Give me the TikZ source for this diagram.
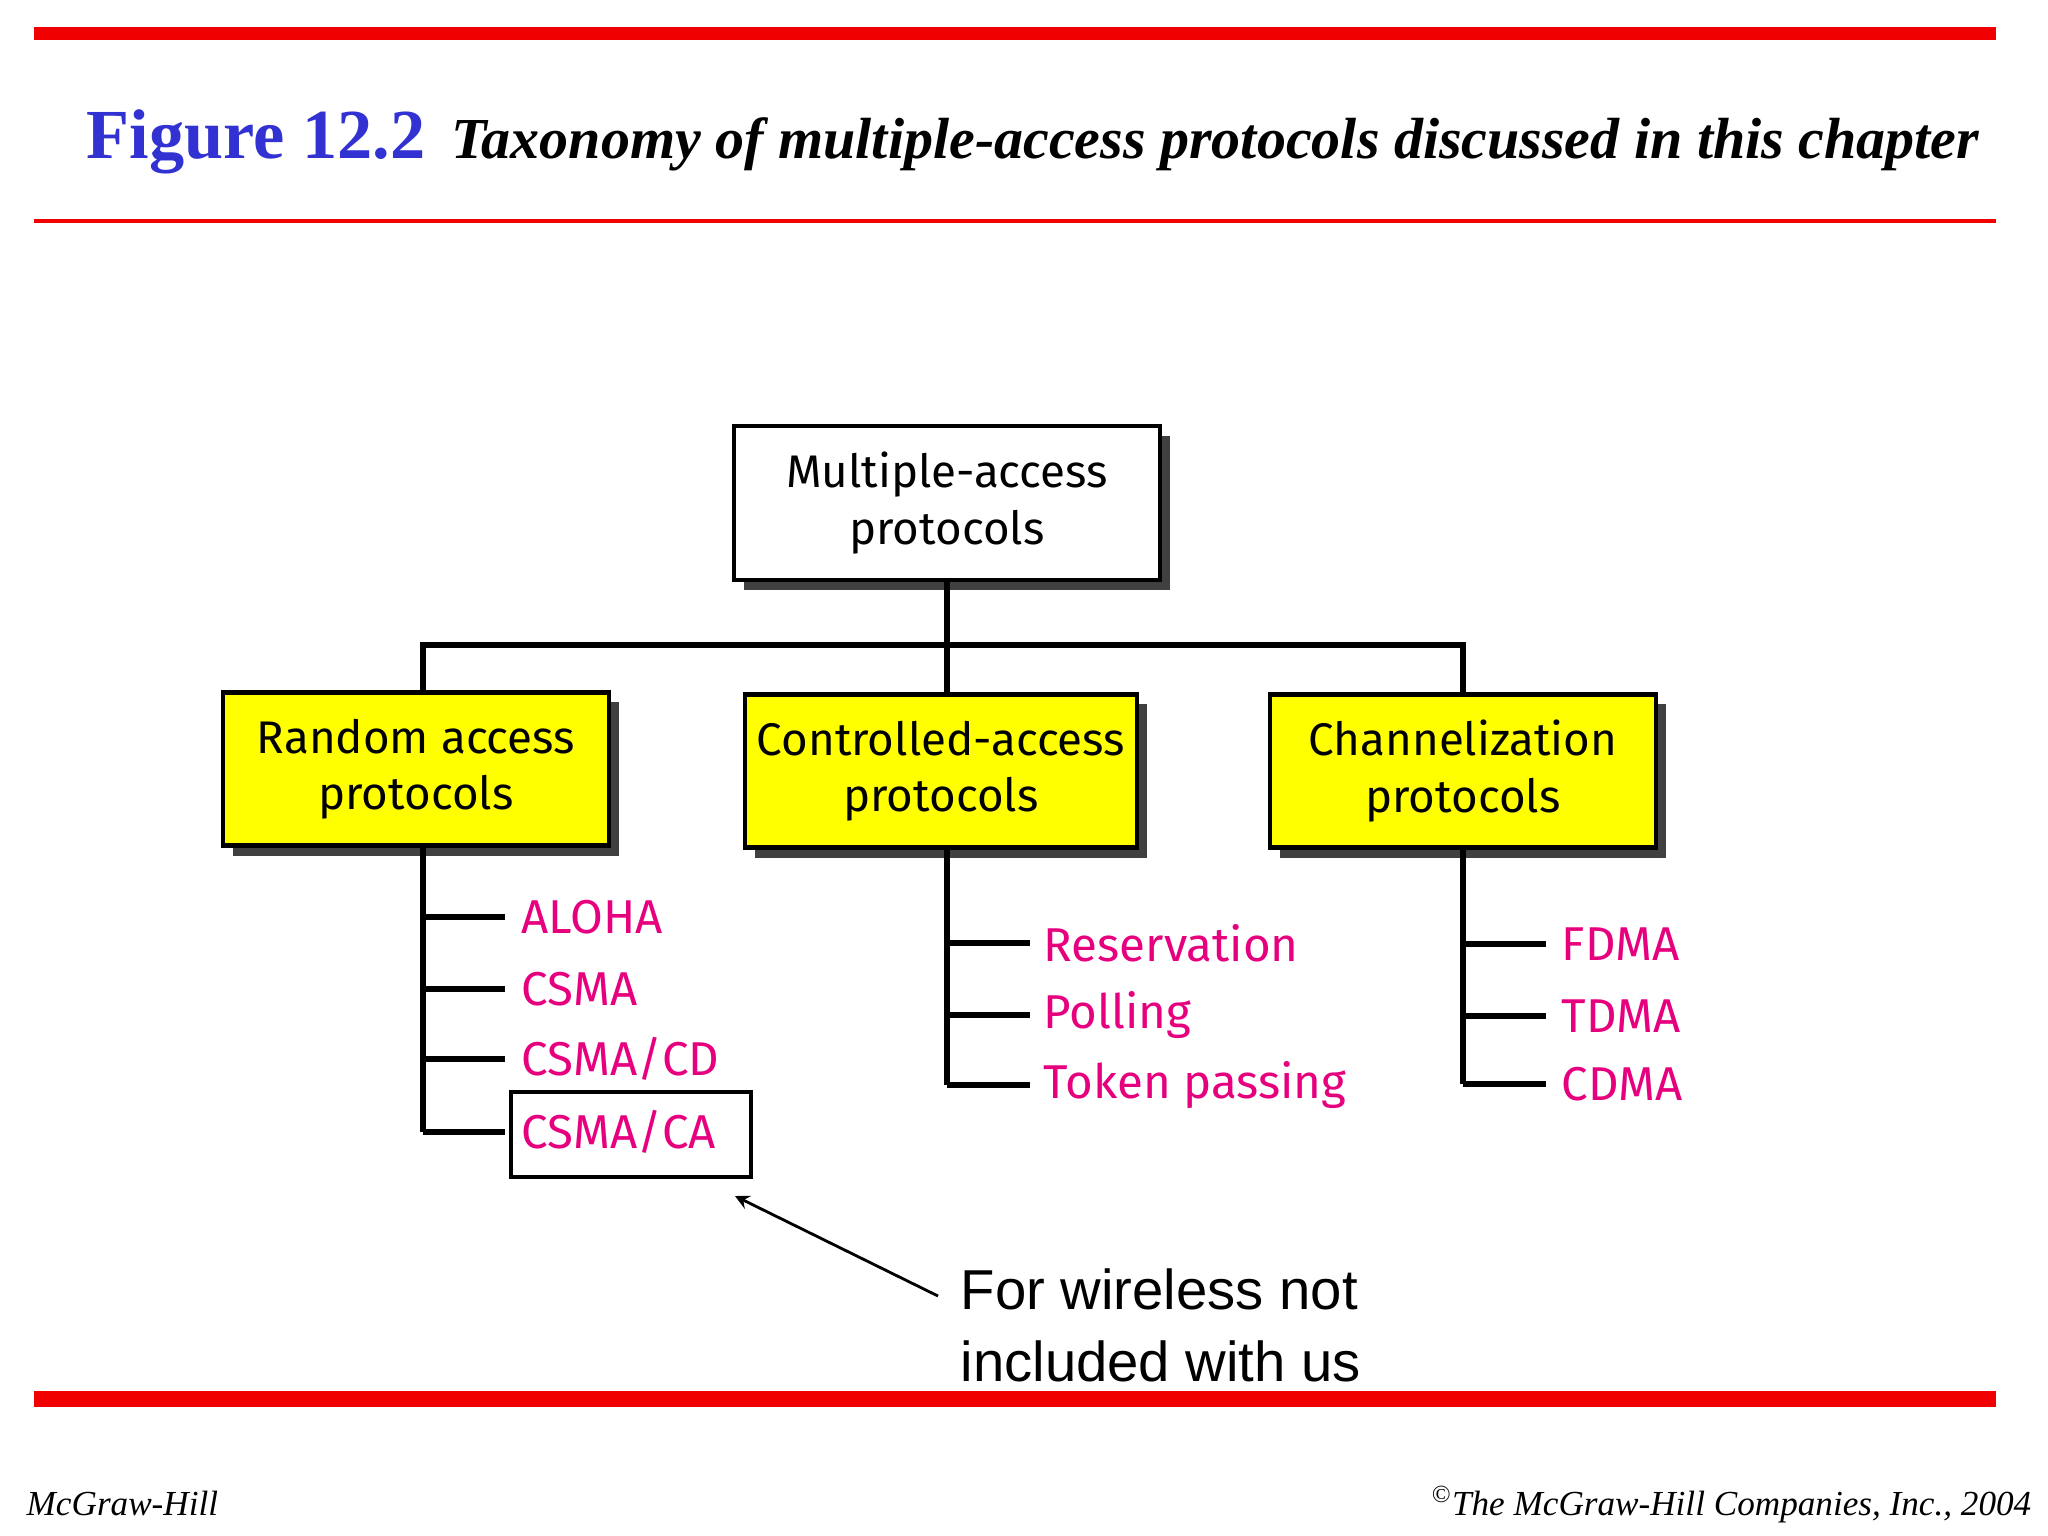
\documentclass[tikz,border=0pt]{standalone}
\usetikzlibrary{shadows}
\usepackage{fontspec}
\setmainfont{Liberation Serif}
\newfontfamily\boxfont{Fira Sans}
\newfontfamily\notefont{Liberation Sans}
\definecolor{barred}{RGB}{240,0,0}
\definecolor{titleblue}{RGB}{50,50,210}
\definecolor{itempink}{RGB}{230,0,126}
\definecolor{boxyellow}{RGB}{255,255,0}
\begin{document}
\begin{tikzpicture}[x=0.01cm,y=-0.01cm,
  proto/.style={draw=black,line width=1.2pt,minimum width=3.86cm,minimum height=1.53cm,
    align=center,font=\boxfont\fontsize{13}{16}\selectfont,
    general shadow={fill=black!75,shadow xshift=0.1cm,shadow yshift=-0.1cm}},
  item/.style={anchor=west,text=itempink,font=\boxfont\fontsize{13.5}{16}\selectfont,inner sep=2pt},
  link/.style={line width=1.6pt},
  tick/.style={line width=1.6pt}]
\useasboundingbox (0,0) rectangle (2048,1536);
% frame bars
\fill[barred] (34,27) rectangle (1996,40);
\draw[barred,line width=1.3pt] (34,221) -- (1996,221);
\fill[barred] (34,1391) rectangle (1996,1407);
% title
\node[anchor=base west,inner sep=0,text=titleblue,font=\fontsize{20}{24}\selectfont\bfseries] (fig) at (86,158) {Figure 12.2};
\node[anchor=base west,inner sep=0,font=\fontsize{16.5}{20}\selectfont\bfseries\itshape] (cap) at (451,158) {Taxonomy of multiple-access protocols discussed in this chapter};
% footer
\node[anchor=base west,inner sep=0,font=\fontsize{10}{12}\selectfont\itshape] (mh) at (26,1515) {McGraw-Hill};
\node[anchor=base east,inner sep=0,font=\fontsize{10}{12}\selectfont\itshape] (cr) at (2032,1515) {\textsuperscript{\copyright}The McGraw-Hill Companies, Inc., 2004};
% boxes
\node[proto,fill=white,minimum width=4.26cm,minimum height=1.54cm] (root) at (947,503) {Multiple-access\\protocols};
\node[proto,fill=boxyellow] (ra) at (416,769) {Random access\\protocols};
\node[proto,fill=boxyellow] (ca) at (941,771) {Controlled-access\\protocols};
\node[proto,fill=boxyellow] (ch) at (1463,771) {Channelization\\protocols};
\coordinate (bus) at (947,645);
\draw[link] (ra.north -| 423,0) |- (bus) -| (ch.north);
\draw[link] (root.south) -- (bus |- ca.north);
% random access
\draw[link] (ra.south -| 423,0) -- (423,1132);
\foreach \y/\t/\n in {917/ALOHA/a1,989/CSMA/a2,1059/CSMA\slash CD/a3,1132/CSMA\slash CA/a4}{
  \node[item] (\n) at (514,\y) {\t};
  \draw[tick] (423,\y) -- (505,\y);}
\draw[line width=0.9pt] (511,1092) rectangle (751,1177);
% controlled
\draw[link] (ca.south -| 947,0) -- (947,1085);
\foreach \y/\t/\n in {943/Reservation/b1,1015/Polling/b2,1085/Token passing/b3}{
  \node[item] (\n) at (1036,\y) {\t};
  \draw[tick] (947,\y) -- (1030,\y);}
% channelization
\draw[link] (ch.south) -- (1463,1084);
\foreach \y/\t/\n in {944/FDMA/c1,1016/TDMA/c2,1084/CDMA/c3}{
  \node[item] (\n) at (1554,\y) {\t};
  \draw[tick] (1463,\y) -- (1546,\y);}
% note
\node[anchor=north west,align=left,inner sep=0,font=\notefont\fontsize{16}{20.5}\selectfont] (note) at (960,1268) {For wireless not\\included with us};
\coordinate (ab) at (735,1196);
\draw[-stealth,line width=0.8pt] (938,1296) -- (ab);
\end{tikzpicture}
\end{document}
